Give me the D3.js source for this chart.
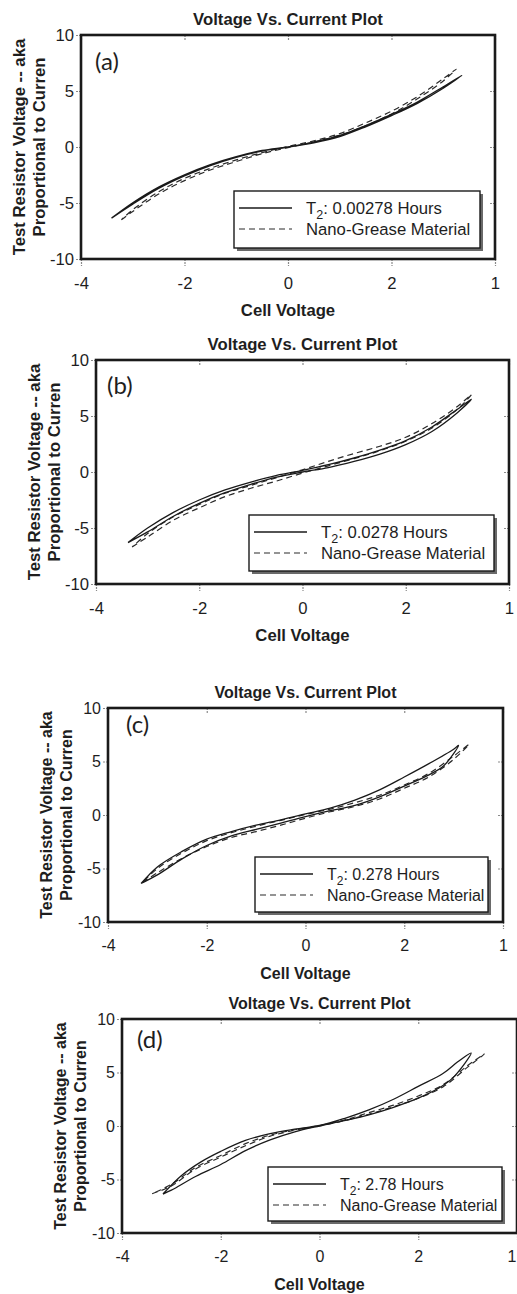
<!DOCTYPE html>
<html>
<head>
<meta charset="utf-8">
<script src="https://cdn.jsdelivr.net/npm/d3@7"></script>
<style>
html, body { margin: 0; padding: 0; background: #fff; }
svg { display: block; }
text { font-family: "Liberation Sans", Arial, sans-serif; fill: #1e1e1e; }
</style>
</head>
<body>
<svg id="viz" width="517" height="1294"></svg>
<script>
// axis ticks and labels (last x label reads "1" in the source figure)
var xTicks = [-4, -2, 0, 2, 4];
var xTickLabels = ["-4", "-2", "0", "2", "1"];
var yTicks = [10, 5, 0, -5, -10];
var yTickLabels = ["10", "5", "0", "-5", "-10"];
var yLabelLines = ["Test Resistor Voltage -- aka", "Proportional to Curren"];
var panelTags = ["(a)", "(b)", "(c)", "(d)"];
var t2Hours = ["0.00278", "0.0278", "0.278", "2.78"];

// loops: [cell voltage, test resistor voltage]
// (a)
var t2A = [[-3.41,-6.35],[-3.0,-5.1],[-2.5,-3.7],[-2.0,-2.58],[-1.5,-1.66],[-1.0,-0.92],[-0.5,-0.36],[0,-0.02],[0.5,0.37],[1.0,0.93],[1.5,1.8],[2.0,2.8],[2.5,3.9],[3.0,5.25],[3.36,6.4],
           [3.0,5.38],[2.5,4.02],[2.0,2.92],[1.5,1.92],[1.0,1.03],[0.5,0.44],[0,0.02],[-0.5,-0.31],[-1.0,-0.86],[-1.5,-1.57],[-2.0,-2.48],[-2.5,-3.58],[-3.0,-4.98],[-3.41,-6.35]];
var greaseA = [[-3.22,-6.5],[-3.0,-5.75],[-2.5,-4.2],[-2.0,-3.0],[-1.5,-2.05],[-1.0,-1.3],[-0.5,-0.6],[0,-0.05],[0.5,0.45],[1.0,1.05],[1.5,1.9],[2.0,2.95],[2.5,4.3],[3.0,5.9],[3.25,6.95],
               [3.0,6.1],[2.5,4.5],[2.0,3.2],[1.5,2.15],[1.0,1.2],[0.5,0.55],[0,0.05],[-0.5,-0.5],[-1.0,-1.15],[-1.5,-1.9],[-2.0,-2.8],[-2.5,-4.0],[-3.0,-5.6],[-3.22,-6.5]];
// (b)
var t2B = [[-3.38,-6.3],[-3.0,-5.35],[-2.5,-3.95],[-2.0,-2.8],[-1.5,-1.85],[-1.0,-1.1],[-0.5,-0.45],[0,0.0],[0.5,0.4],[1.0,0.95],[1.5,1.6],[2.0,2.45],[2.5,3.6],[3.0,5.3],[3.27,6.5],
           [3.0,5.6],[2.5,4.0],[2.0,2.8],[1.5,1.95],[1.0,1.25],[0.5,0.65],[0,0.15],[-0.5,-0.3],[-1.0,-0.9],[-1.5,-1.6],[-2.0,-2.5],[-2.5,-3.6],[-3.0,-5.0],[-3.38,-6.3]];
var greaseB = [[-3.3,-6.7],[-3.0,-5.8],[-2.5,-4.3],[-2.0,-3.2],[-1.5,-2.2],[-1.0,-1.45],[-0.5,-0.8],[0,-0.1],[0.5,0.55],[1.0,1.2],[1.5,1.9],[2.0,2.75],[2.5,3.9],[3.0,5.6],[3.27,6.9],
               [3.0,5.85],[2.5,4.3],[2.0,3.1],[1.5,2.3],[1.0,1.65],[0.5,0.95],[0,0.2],[-0.5,-0.5],[-1.0,-1.2],[-1.5,-1.9],[-2.0,-2.9],[-2.5,-4.0],[-3.0,-5.5],[-3.3,-6.7]];
// (c)
var t2C = [[-3.33,-6.4],[-3.0,-5.6],[-2.5,-4.1],[-2.0,-2.85],[-1.5,-1.95],[-1.0,-1.35],[-0.5,-0.75],[0,-0.15],[0.5,0.4],[1.0,0.9],[1.5,1.7],[2.0,2.7],[2.5,3.75],[2.8,4.6],[3.1,6.5],
           [3.0,6.15],[2.5,4.8],[2.0,3.55],[1.5,2.35],[1.0,1.4],[0.5,0.65],[0,0.1],[-0.5,-0.45],[-1.0,-0.95],[-1.5,-1.55],[-2.0,-2.25],[-2.5,-3.4],[-3.0,-4.85],[-3.33,-6.4]];
var greaseC = [[-3.3,-6.3],[-3.0,-5.4],[-2.5,-4.05],[-2.0,-2.95],[-1.5,-2.1],[-1.0,-1.55],[-0.5,-0.95],[0,-0.3],[0.5,0.3],[1.0,0.8],[1.5,1.5],[2.0,2.5],[2.5,3.55],[3.0,5.2],[3.31,6.6],
               [3.0,5.5],[2.5,3.9],[2.0,2.8],[1.5,1.85],[1.0,1.15],[0.5,0.55],[0,0.05],[-0.5,-0.5],[-1.0,-1.05],[-1.5,-1.65],[-2.0,-2.4],[-2.5,-3.55],[-3.0,-5.0],[-3.3,-6.3]];
// (d)
var t2D = [[-3.17,-6.36],[-3.0,-6.0],[-2.5,-4.7],[-2.0,-3.6],[-1.5,-2.3],[-1.0,-1.3],[-0.5,-0.55],[0,0],[0.5,0.5],[1.0,1.05],[1.5,1.75],[2.0,2.6],[2.4,3.5],[2.7,4.5],[3.07,6.82],
           [2.8,6.0],[2.5,4.9],[2.0,3.7],[1.5,2.5],[1.0,1.5],[0.5,0.7],[0,0.05],[-0.5,-0.3],[-1.0,-0.72],[-1.5,-1.35],[-2.0,-2.37],[-2.4,-3.35],[-2.8,-4.65],[-3.17,-6.36]];
var greaseD = [[-3.39,-6.33],[-3.0,-5.6],[-2.5,-4.0],[-2.0,-2.9],[-1.5,-1.85],[-1.0,-0.95],[-0.5,-0.4],[0,0],[0.5,0.5],[1.0,1.1],[1.5,1.8],[2.0,2.6],[2.5,3.65],[3.0,5.5],[3.34,6.73],
               [3.0,5.65],[2.5,3.85],[2.0,2.8],[1.5,1.95],[1.0,1.25],[0.5,0.55],[0,0.05],[-0.5,-0.35],[-1.0,-0.85],[-1.5,-1.65],[-2.0,-2.75],[-2.5,-3.85],[-3.0,-5.45],[-3.39,-6.33]];

var t2Series = [t2A, t2B, t2C, t2D];
var greaseSeries = [greaseA, greaseB, greaseC, greaseD];

// frame of each panel on the page
var panels = [
    {left: 81,  top: 35,   width: 414, height: 224, fs: 16.7, tagX: 14, tagY: 35, lw: 246, lh: 57, lb: 11},
    {left: 96,  top: 360,  width: 413, height: 224, fs: 16.7, tagX: 11, tagY: 34, lw: 245, lh: 56, lb: 13},
    {left: 108, top: 708,  width: 395, height: 214, fs: 16,   tagX: 18, tagY: 25, lw: 233, lh: 55, lb: 10},
    {left: 122, top: 1019, width: 395, height: 214, fs: 16,   tagX: 15, tagY: 29, lw: 234, lh: 54, lb: 12}
];

var svg = d3.select("#viz");
var pageWidth = 517;

panels.forEach(function(p, i) {
    var g = svg.append("g");
    var x = d3.scaleLinear().domain([-4, 4]).range([p.left, p.left + p.width]);
    var y = d3.scaleLinear().domain([-10, 10]).range([p.top + p.height, p.top]);
    var bottom = p.top + p.height, right = p.left + p.width;

    // title
    g.append("text")
        .attr("x", p.left + p.width / 2)
        .attr("y", p.top - 10)
        .attr("text-anchor", "middle")
        .style("font-weight", "bold")
        .style("font-size", p.fs + "px")
        .text("Voltage Vs. Current Plot");

    // axes
    var xAxis = g.append("g")
        .attr("transform", "translate(0," + bottom + ")")
        .call(d3.axisBottom(x).tickValues(xTicks).tickFormat(function(d, k) { return xTickLabels[k]; })
            .tickSize(7).tickPadding(11));
    var yAxis = g.append("g")
        .attr("transform", "translate(" + p.left + ",0)")
        .call(d3.axisLeft(y).tickValues(yTicks).tickFormat(function(d, k) { return yTickLabels[k]; })
            .tickSize(6).tickPadding(1));
    // small inner ticks on top and right
    var xTop = g.append("g")
        .attr("transform", "translate(0," + p.top + ")")
        .call(d3.axisTop(x).tickValues(xTicks).tickFormat("").tickSize(-6));
    var yRight = g.append("g")
        .attr("transform", "translate(" + right + ",0)")
        .call(d3.axisRight(y).tickValues(yTicks).tickFormat("").tickSize(-6));
    [xAxis, yAxis, xTop, yRight].forEach(function(a) {
        a.select(".domain").remove();
        a.selectAll(".tick line").attr("stroke", "#8a8a8a").attr("stroke-width", 1.2)
            .attr("stroke-dasharray", "2,1");
        a.selectAll(".tick text")
            .style("font-family", "'Liberation Sans', Arial, sans-serif")
            .style("font-size", p.fs + "px").attr("fill", "#1e1e1e");
    });
    // keep a label that would run past the page edge inside it
    xAxis.selectAll(".tick text").each(function() {
        var t = d3.select(this);
        var tx = x(d3.select(this.parentNode).datum());
        if (tx + this.getComputedTextLength() / 2 > pageWidth) {
            t.attr("text-anchor", "end").attr("x", pageWidth - tx - 1);
        }
    });

    // frame
    g.append("rect")
        .attr("x", p.left).attr("y", p.top)
        .attr("width", p.width).attr("height", p.height)
        .attr("fill", "none").attr("stroke", "#1a1a1a").attr("stroke-width", 2.6);

    // curves
    var line = d3.line()
        .x(function(d) { return x(d[0]); })
        .y(function(d) { return y(d[1]); })
        .curve(d3.curveCatmullRom.alpha(0.5));
    g.append("path").datum(greaseSeries[i])
        .attr("d", line).attr("fill", "none")
        .attr("stroke", "#2a2a2a").attr("stroke-width", 1.2)
        .attr("stroke-dasharray", "6,4");
    g.append("path").datum(t2Series[i])
        .attr("d", line).attr("fill", "none")
        .attr("stroke", "#1a1a1a").attr("stroke-width", 1.3);

    // panel tag
    g.append("text")
        .attr("x", p.left + p.tagX).attr("y", p.top + p.tagY)
        .style("font-family", "Lato, 'Open Sans', sans-serif")
        .style("font-size", "24px")
        .text(panelTags[i]);

    // axis titles
    g.append("text")
        .attr("x", p.left + p.width / 2)
        .attr("y", bottom + 57)
        .attr("text-anchor", "middle")
        .style("font-weight", "bold")
        .style("font-size", p.fs + "px")
        .text("Cell Voltage");
    var yl = g.append("text")
        .attr("transform", "translate(" + (p.left - 56) + "," + (p.top + p.height / 2) + ") rotate(-90)")
        .attr("text-anchor", "middle")
        .style("font-weight", "bold")
        .style("font-size", p.fs + "px");
    yLabelLines.forEach(function(s, k) {
        yl.append("tspan").attr("x", 0).attr("y", k * 20).text(s);
    });

    // legend
    var lx = right - 15 - p.lw, ly = bottom - p.lb - p.lh;
    var leg = g.append("g").attr("transform", "translate(" + lx + "," + ly + ")");
    leg.append("rect").attr("x", 3).attr("y", 3).attr("width", p.lw).attr("height", p.lh)
        .attr("fill", "#6a6a6a");
    leg.append("rect").attr("width", p.lw).attr("height", p.lh)
        .attr("fill", "#fff").attr("stroke", "#1a1a1a").attr("stroke-width", 1.4);
    var row1 = 17, row2 = 38;
    leg.append("line").attr("x1", 5).attr("x2", 58).attr("y1", row1).attr("y2", row1)
        .attr("stroke", "#1a1a1a").attr("stroke-width", 1.3);
    leg.append("line").attr("x1", 5).attr("x2", 58).attr("y1", row2).attr("y2", row2)
        .attr("stroke", "#2a2a2a").attr("stroke-width", 1.2).attr("stroke-dasharray", "6,4");
    var t1 = leg.append("text").attr("x", 72).attr("y", row1 + 6).style("font-size", p.fs + "px");
    t1.append("tspan").text("T");
    t1.append("tspan").attr("dy", 5).style("font-size", (p.fs * 0.75) + "px").text("2");
    t1.append("tspan").attr("dy", -5).text(": " + t2Hours[i] + " Hours");
    leg.append("text").attr("x", 72).attr("y", row2 + 6).style("font-size", p.fs + "px")
        .text("Nano-Grease Material");
});
</script>
</body>
</html>
